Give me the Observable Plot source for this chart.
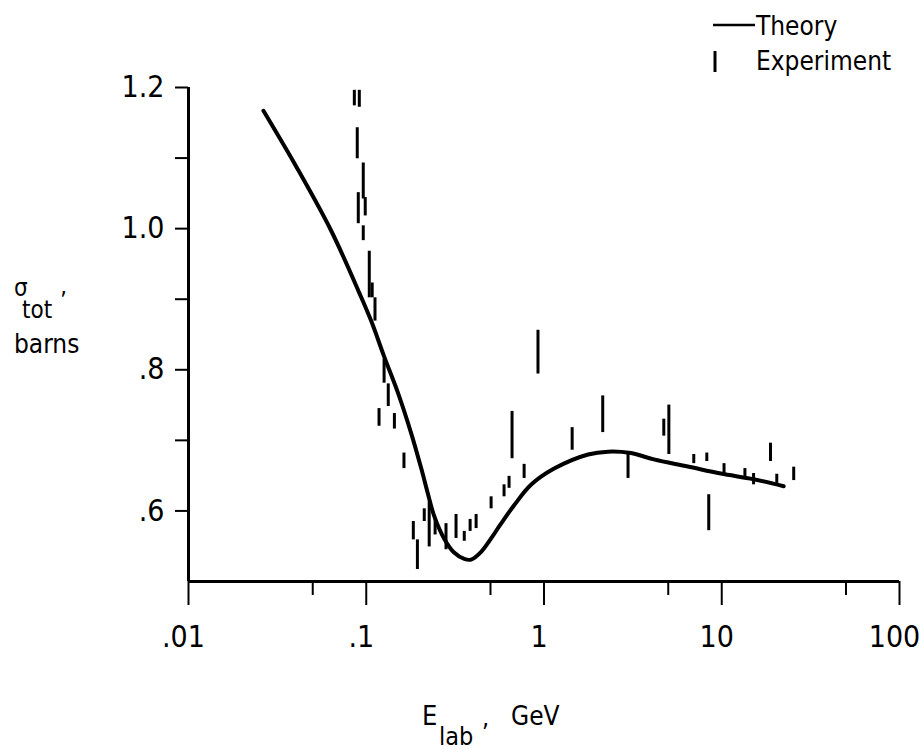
<!DOCTYPE html>
<html><head><meta charset="utf-8">
<script src="https://cdn.jsdelivr.net/npm/d3@7"></script>
<script src="https://cdn.jsdelivr.net/npm/@observablehq/plot@0.6"></script>
<style>
html,body{margin:0;padding:0;background:#fff;}
#chart svg{display:block;}
</style>
</head><body><div id="chart"></div>
<script>
// Theory curve (E_lab in GeV, sigma_tot in barns)
const theoryE =     [0.0264, 0.041, 0.0635, 0.0914, 0.1067, 0.126, 0.151, 0.179, 0.204, 0.223, 0.241, 0.274, 0.312, 0.356, 0.389, 0.443, 0.504, 0.573, 0.679, 0.845, 1.14, 1.77, 2.29, 3.08, 4.15, 6.44, 9.87, 15.1, 22.3];
const theorySigma = [1.167, 1.085, 0.997, 0.909, 0.869, 0.819, 0.767, 0.710, 0.660, 0.623, 0.593, 0.561, 0.541, 0.532, 0.531, 0.542, 0.561, 0.582, 0.608, 0.637, 0.660, 0.680, 0.684, 0.682, 0.673, 0.663, 0.653, 0.645, 0.635];

// Experiment error bars
const expE  = [0.0857, 0.0914, 0.0890, 0.0962, 0.0902, 0.0987, 0.0962, 0.104, 0.108, 0.112, 0.126, 0.133, 0.118, 0.144, 0.163, 0.184, 0.194, 0.212, 0.226, 0.244, 0.281, 0.320, 0.356, 0.384, 0.415, 0.504, 0.596, 0.636, 0.661, 0.773, 0.925, 1.44, 2.14, 2.97, 4.72, 5.04, 6.96, 8.24, 8.45, 10.3, 13.5, 15.1, 18.8, 20.4, 25.4];
const expLo = [1.174, 1.172, 1.099, 1.042, 1.007, 1.018, 0.983, 0.902, 0.902, 0.869, 0.781, 0.748, 0.720, 0.716, 0.660, 0.559, 0.517, 0.585, 0.549, 0.566, 0.545, 0.561, 0.557, 0.571, 0.575, 0.603, 0.620, 0.632, 0.674, 0.646, 0.794, 0.686, 0.711, 0.646, 0.706, 0.680, 0.667, 0.670, 0.572, 0.653, 0.646, 0.637, 0.670, 0.639, 0.643];
const expHi = [1.196, 1.196, 1.143, 1.093, 1.051, 1.044, 1.004, 0.968, 0.923, 0.902, 0.815, 0.780, 0.745, 0.738, 0.682, 0.585, 0.559, 0.603, 0.613, 0.588, 0.582, 0.595, 0.571, 0.588, 0.595, 0.620, 0.637, 0.649, 0.741, 0.666, 0.856, 0.718, 0.763, 0.680, 0.730, 0.750, 0.680, 0.682, 0.623, 0.667, 0.660, 0.653, 0.696, 0.652, 0.662];

// Ticks
const xTicksMajor = [0.01, 0.1, 1, 10, 100];
const xTickLabels = [".01", ".1", "1", "10", "100"];
const xTicksMinor = [0.05, 0.5, 5, 50];
const yTicks = [0.6, 0.7, 0.8, 0.9, 1.0, 1.1, 1.2];
const yTickLabels = [".6", "", ".8", "", "1.0", "", "1.2"];

const theory = theoryE.map((e, i) => ({e, s: theorySigma[i]}));
const exp = expE.map((e, i) => ({e, lo: expLo[i], hi: expHi[i]}));

const font = '"DejaVu Sans Condensed","Liberation Sans Narrow","DejaVu Sans",sans-serif';

const plot = Plot.plot({
  width: 923, height: 750,
  marginLeft: 188, marginRight: 24, marginTop: 87, marginBottom: 169,
  style: {fontFamily: font, background: "#fff", color: "#000", overflow: "visible"},
  x: {type: "log", domain: [0.01, 100], label: null},
  y: {domain: [0.5, 1.2], label: null},
  marks: [
    Plot.axisX(xTicksMinor, {tickSize: 14, tickFormat: () => "", strokeWidth: 2, label: null}),
    Plot.axisX(xTicksMajor, {tickSize: 24, tickFormat: () => "", strokeWidth: 2, label: null}),
    Plot.axisX(xTicksMajor, {tickSize: 0, tickPadding: 44, dx: -5, fontSize: 30, label: null,
      tickFormat: d => xTickLabels[xTicksMajor.indexOf(d)]}),
    Plot.axisY(yTicks, {tickSize: 13, tickPadding: 11, strokeWidth: 2, fontSize: 30, label: null,
      tickFormat: d => yTickLabels[yTicks.findIndex(t => Math.abs(t - d) < 1e-9)]}),
    Plot.ruleY([0.5], {strokeWidth: 3}),
    Plot.ruleX([0.01], {y1: 0.5, y2: 1.2, strokeWidth: 3}),
    Plot.ruleX(exp, {x: "e", y1: "lo", y2: "hi", strokeWidth: 3}),
    Plot.line(theory, {x: "e", y: "s", curve: "catmull-rom", strokeWidth: 4})
  ]
});

const svg = d3.select(plot);
const g = svg.append("g").attr("font-family", font).attr("fill", "#000").attr("text-anchor", "start");

// Legend
g.append("line").attr("x1", 713).attr("x2", 755).attr("y1", 25).attr("y2", 25).attr("stroke", "#000").attr("stroke-width", 2.5);
g.append("text").attr("x", 756).attr("y", 35).attr("font-size", 26).text("Theory");
g.append("line").attr("x1", 715).attr("x2", 715).attr("y1", 51).attr("y2", 72).attr("stroke", "#000").attr("stroke-width", 3);
g.append("text").attr("x", 756).attr("y", 70).attr("font-size", 26).text("Experiment");

// Y label
g.append("text").attr("x", 14).attr("y", 296).attr("font-size", 24).text("σ");
g.append("text").attr("x", 22).attr("y", 318).attr("font-size", 24).text("tot");
g.append("text").attr("x", 60).attr("y", 309).attr("font-size", 24).text("’");
g.append("text").attr("x", 14).attr("y", 353).attr("font-size", 26).text("barns");

// X label
g.append("text").attr("x", 422).attr("y", 725).attr("font-size", 27).text("E");
g.append("text").attr("x", 439).attr("y", 745).attr("font-size", 25).text("lab");
g.append("text").attr("x", 482).attr("y", 726).attr("font-size", 25).text(",");
g.append("text").attr("x", 511).attr("y", 725).attr("font-size", 26).text("GeV");

document.getElementById("chart").appendChild(plot);
</script>
</body></html>
